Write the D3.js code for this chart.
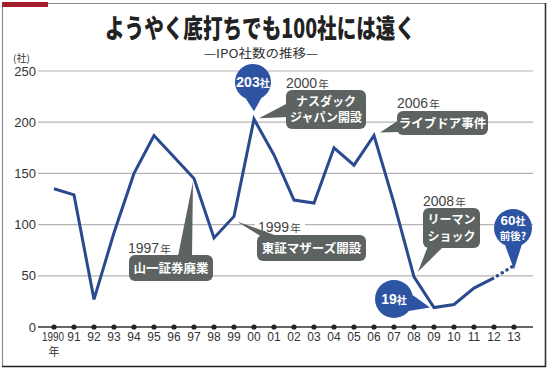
<!DOCTYPE html>
<html><head><meta charset="utf-8">
<script src="https://cdn.jsdelivr.net/npm/d3@7"></script>
<style>body{margin:0;background:#fff}svg{display:block}</style>
</head><body>
<svg id="c" width="550" height="372"></svg>
<script>
const years = d3.range(1990, 2014);
const yearLabels = ["1990","91","92","93","94","95","96","97","98","99","00","01","02","03","04","05","06","07","08","09","10","11","12","13"];
const ipoCounts = [135,129,27,92,150,187,166,145,87,108,203,168,124,121,175,158,187,121,49,19,22,38,48];
const projYears = [2012, 2013];
const projCounts = [48, 60];
const yTicks = [0,50,100,150,200,250];

const svg = d3.select("#c");
const JP = "'Noto Sans CJK JP', 'Liberation Sans', sans-serif";
const NUM = "'Liberation Sans', Arial, sans-serif";
const x = d3.scaleLinear().domain([1990, 2013]).range([54, 514]);
const y = d3.scaleLinear().domain([0, 250]).range([327, 71]);

// frame
svg.append("rect").attr("x",2).attr("y",2).attr("width",46).attr("height",5).attr("fill","#a51d2b");
svg.append("line").attr("x1",48).attr("x2",546).attr("y1",3.5).attr("y2",3.5).attr("stroke","#8a8a8a").attr("stroke-width",1.2);
svg.append("line").attr("x1",2.5).attr("x2",2.5).attr("y1",7).attr("y2",366).attr("stroke","#8a8a8a").attr("stroke-width",1.2);
svg.append("line").attr("x1",545.5).attr("x2",545.5).attr("y1",3).attr("y2",367).attr("stroke","#333").attr("stroke-width",1.6);
svg.append("line").attr("x1",2).attr("x2",546).attr("y1",366.5).attr("y2",366.5).attr("stroke","#222").attr("stroke-width",1.6);

// title
svg.append("text").attr("x",260).attr("y",38).attr("text-anchor","middle")
  .attr("font-family",JP).attr("font-weight",900).attr("font-size",26)
  .attr("textLength",310).attr("lengthAdjust","spacingAndGlyphs").attr("fill","#222")
  .text("ようやく底打ちでも100社には遠く");
svg.append("text").attr("x",261).attr("y",57.5).attr("text-anchor","middle")
  .attr("font-family",JP).attr("font-size",12).attr("fill","#333")
  .attr("textLength",114).attr("lengthAdjust","spacingAndGlyphs")
  .text("—IPO社数の推移—");
svg.append("text").attr("x",13).attr("y",62).attr("font-family",JP).attr("font-size",10).attr("fill","#333").text("(社)");

// grid
const yAxis = d3.axisLeft(y).tickValues(yTicks).tickSize(0).tickPadding(2);
const ga = svg.append("g").attr("transform","translate(38,0)").call(yAxis);
ga.select(".domain").remove();
ga.selectAll("text").attr("font-family",NUM).attr("font-size",13).attr("fill","#333");
svg.append("g").selectAll("line").data(yTicks.filter(d=>d>0)).join("line")
  .attr("x1",38).attr("x2",533).attr("y1",d=>y(d)).attr("y2",d=>y(d))
  .attr("stroke","#b4b4b4").attr("stroke-width",1.2);

// x axis
svg.append("line").attr("x1",38).attr("x2",533).attr("y1",y(0)).attr("y2",y(0)).attr("stroke","#333").attr("stroke-width",1.5);
svg.append("g").selectAll("circle").data(years).join("circle")
  .attr("cx",d=>x(d)).attr("cy",y(0)).attr("r",2.6).attr("fill","#222");
svg.append("g").selectAll("text").data(years).join("text")
  .attr("x",(d,i)=>x(d) - (i===0?1:0)).attr("y",341).attr("text-anchor","middle")
  .attr("font-family",NUM).attr("font-size",12).attr("fill","#333")
  .each(function(d,i){ if(i===0) d3.select(this).attr("textLength",22).attr("lengthAdjust","spacingAndGlyphs"); })
  .text((d,i)=>yearLabels[i]);
svg.append("text").attr("x",x(1990)).attr("y",356).attr("text-anchor","middle")
  .attr("font-family",JP).attr("font-size",11).attr("fill","#333").text("年");

// line
const line = d3.line().x(d=>x(d[0])).y(d=>y(d[1]));
const pts = ipoCounts.map((v,i)=>[years[i], v]);
svg.append("path").attr("d",line(pts)).attr("fill","none").attr("stroke","#2a4a8f")
  .attr("stroke-width",3).attr("stroke-linejoin","miter");
svg.append("path").attr("d",line(projYears.map((d,i)=>[d,projCounts[i]])))
  .attr("fill","none").attr("stroke","#2a4a8f").attr("stroke-width",3.4)
  .attr("stroke-linecap","round").attr("stroke-dasharray","0.1 5.5").attr("stroke-dashoffset",-4);

const GRAY = "#5c6361", BLUE = "#2d53a3";
function pt(yr){ return [x(yr), y(ipoCounts[yr-1990])]; }

function yearText(px, py, yr){
  const t = svg.append("text").attr("x",px).attr("y",py).attr("fill","#444");
  t.append("tspan").attr("font-family",NUM).attr("font-size",14).text(yr);
  t.append("tspan").attr("font-family",JP).attr("font-size",10.5).attr("dx",1).text("年");
  return t;
}
function box(bx, by, bw, bh, wedge, lines, fs){
  svg.append("path").attr("d","M"+wedge.map(p=>p.join(",")).join("L")+"Z").attr("fill",GRAY);
  svg.append("rect").attr("x",bx).attr("y",by).attr("width",bw).attr("height",bh).attr("rx",6).attr("fill",GRAY);
  lines.forEach((s,i)=>{
    svg.append("text").attr("x",bx+bw/2).attr("y",by+ (bh/lines.length)*(i+0.5) + fs*0.36 + (lines.length>1 ? (i===0?1.5:-1.5):0))
      .attr("text-anchor","middle").attr("font-family",JP).attr("font-weight",700)
      .attr("font-size",fs).attr("fill","#fff").text(s);
  });
}
// segments: [text, size, isJP]
function bubble(cx, cy, r, tip, lines){
  const ang = Math.atan2(tip[1]-cy, tip[0]-cx);
  const a1 = ang + 0.45, a2 = ang - 0.45;
  svg.append("path").attr("d",`M${cx+r*Math.cos(a1)},${cy+r*Math.sin(a1)}L${tip[0]},${tip[1]}L${cx+r*Math.cos(a2)},${cy+r*Math.sin(a2)}Z`).attr("fill",BLUE);
  svg.append("circle").attr("cx",cx).attr("cy",cy).attr("r",r).attr("fill",BLUE);
  lines.forEach((l,i)=>{
    const t = svg.append("text").attr("x",cx).attr("text-anchor","middle").attr("fill","#fff")
      .attr("y", cy + (lines.length===1 ? 5 : (i===0 ? -3 : 12)));
    l.forEach(seg=>{
      t.append("tspan").attr("font-family",seg[2]?JP:NUM).attr("font-weight",700)
        .attr("font-size",seg[1]).text(seg[0]);
    });
  });
}

// 1997
yearText(128, 253, "1997");
{ const [px,py] = pt(1997);
  box(129, 255, 84, 26, [[178,256],[px-1,py+3],[192,256]], ["山一証券廃業"], 12.5); }

// 1999
svg.append("rect").attr("x",255).attr("y",218).attr("width",50).attr("height",14).attr("fill","#fff");
yearText(258, 232, "1999");
{ const [px,py] = pt(1999);
  box(257, 235, 109, 26, [[262,237],[px+3,py+5],[280,237]], ["東証マザーズ開設"], 12.5); }

// 2000
yearText(286, 88, "2000");
{ const [px,py] = pt(2000);
  box(286, 90, 80, 39, [[288,103],[px+5,py-1],[288,117]], ["ナスダック","ジャパン開設"], 12);
  bubble(253, 82, 18, [px, py-8], [[["203",14,0],["社",10,1]]]); }

// 2006
yearText(397, 108, "2006");
{ const [px,py] = pt(2006);
  box(397, 111, 91, 24, [[399,120],[px+6,py-3],[399,132]], ["ライブドア事件"], 12.5); }

// 2008
yearText(423, 206, "2008");
{ const [px,py] = pt(2008);
  box(423, 208, 57, 40, [[428,246],[px+4,py-5],[444,246]], ["リーマン","ショック"], 12); }

// 19社
{ const [px,py] = pt(2009);
  bubble(394, 299, 19, [px-4, py], [[["19",14,0],["社",10,1]]]); }

// 60社
bubble(513, 228, 19, [x(2013), y(projCounts[1])+4], [[["60",13.5,0],["社",10,1]],[["前後?",10.5,1]]]);
</script>
</body></html>
